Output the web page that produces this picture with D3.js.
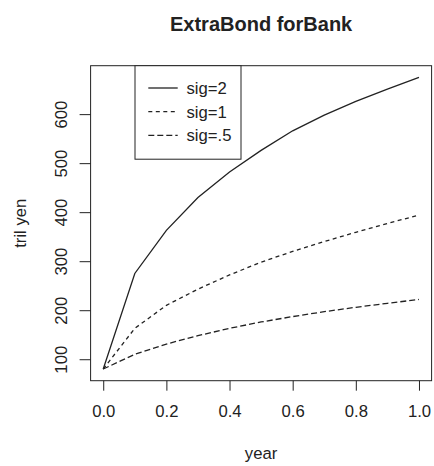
<!DOCTYPE html>
<html>
<head>
<meta charset="utf-8">
<script src="https://cdn.jsdelivr.net/npm/d3@7"></script>
<style>
  body { margin: 0; background: #fff; }
  svg { display: block; font-family: "Liberation Sans", Arial, sans-serif; }
  .axis text { font-size: 16.7px; fill: #222; }
  .axis path, .axis line { stroke: #222; stroke-width: 1; }
</style>
</head>
<body>
<svg id="chart" width="434" height="466"></svg>
<script>
const years = [0, 0.1, 0.2, 0.3, 0.4, 0.5, 0.6, 0.7, 0.8, 0.9, 1.0];
const sig2 = [80, 275, 363, 430, 482, 526, 566, 598, 626, 651, 675];
const sig1 = [80, 163, 210, 243, 272, 298, 320, 340, 359, 377, 394];
const sig05 = [80, 110, 131, 148, 163, 176, 187, 197, 206, 214, 222];
const xTicks = [0, 0.2, 0.4, 0.6, 0.8, 1.0];
const yTicks = [100, 200, 300, 400, 500, 600];
const seriesNames = ['sig=2', 'sig=1', 'sig=.5'];

// plot region (R style: 4% padding around data range)
const plot = { left: 90.6, right: 431.6, top: 65.7, bottom: 380.7 };

const x = d3.scaleLinear().domain([-0.04, 1.04]).range([plot.left, plot.right]);
const y = d3.scaleLinear().domain([56.2, 698.8]).range([plot.bottom, plot.top]);

const svg = d3.select('#chart');

// x axis
svg.append('g')
  .attr('class', 'axis')
  .attr('transform', `translate(0, ${plot.bottom})`)
  .call(d3.axisBottom(x).tickValues(xTicks).tickFormat(d3.format('.1f')).tickSize(10).tickPadding(14))
  .call(g => g.select('.domain').remove());

// y axis
const yAxis = svg.append('g')
  .attr('class', 'axis')
  .attr('transform', `translate(${plot.left}, 0)`)
  .call(d3.axisLeft(y).tickValues(yTicks).tickSize(11).tickPadding(0))
  .call(g => g.select('.domain').remove());

yAxis.selectAll('.tick text')
  .attr('x', 0).attr('dy', 0)
  .attr('text-anchor', 'middle')
  .attr('transform', 'translate(-24, 0) rotate(-90)');

// box
svg.append('rect')
  .attr('x', plot.left).attr('y', plot.top)
  .attr('width', plot.right - plot.left).attr('height', plot.bottom - plot.top)
  .attr('fill', 'none').attr('stroke', '#222').attr('stroke-width', 1);

// lines
const dashes = [null, '4,3.5', '6,3'];
const allSeries = [sig2, sig1, sig05];
const line = d3.line().x((d, i) => x(years[i])).y(d => y(d));

svg.selectAll('path.series')
  .data(allSeries)
  .enter()
  .append('path')
  .attr('class', 'series')
  .attr('d', d => line(d))
  .attr('fill', 'none')
  .attr('stroke', '#222')
  .attr('stroke-width', 1.3)
  .attr('stroke-dasharray', (d, i) => dashes[i]);

// legend
const lg = svg.append('g');
lg.append('rect')
  .attr('x', 135).attr('y', plot.top)
  .attr('width', 106).attr('height', 93.5)
  .attr('fill', '#fff').attr('stroke', '#222').attr('stroke-width', 1);

seriesNames.forEach((name, i) => {
  const ly = 88 + i * 23.7;
  lg.append('line')
    .attr('x1', 148.3).attr('x2', 177.7)
    .attr('y1', ly).attr('y2', ly)
    .attr('stroke', '#222').attr('stroke-width', 1.3)
    .attr('stroke-dasharray', dashes[i]);
  lg.append('text')
    .attr('x', 186.5).attr('y', ly + 6)
    .attr('font-size', 16.7).attr('fill', '#222')
    .text(name);
});

// titles
svg.append('text')
  .attr('x', (plot.left + plot.right) / 2).attr('y', 30.7)
  .attr('text-anchor', 'middle')
  .attr('font-size', 20).attr('font-weight', 'bold').attr('fill', '#222')
  .text('ExtraBond forBank');

svg.append('text')
  .attr('x', (plot.left + plot.right) / 2).attr('y', 459)
  .attr('text-anchor', 'middle')
  .attr('font-size', 16.7).attr('fill', '#222')
  .text('year');

svg.append('text')
  .attr('transform', `translate(25.5, ${(plot.top + plot.bottom) / 2}) rotate(-90)`)
  .attr('text-anchor', 'middle')
  .attr('font-size', 16.7).attr('fill', '#222')
  .text('tril yen');
</script>
</body>
</html>
